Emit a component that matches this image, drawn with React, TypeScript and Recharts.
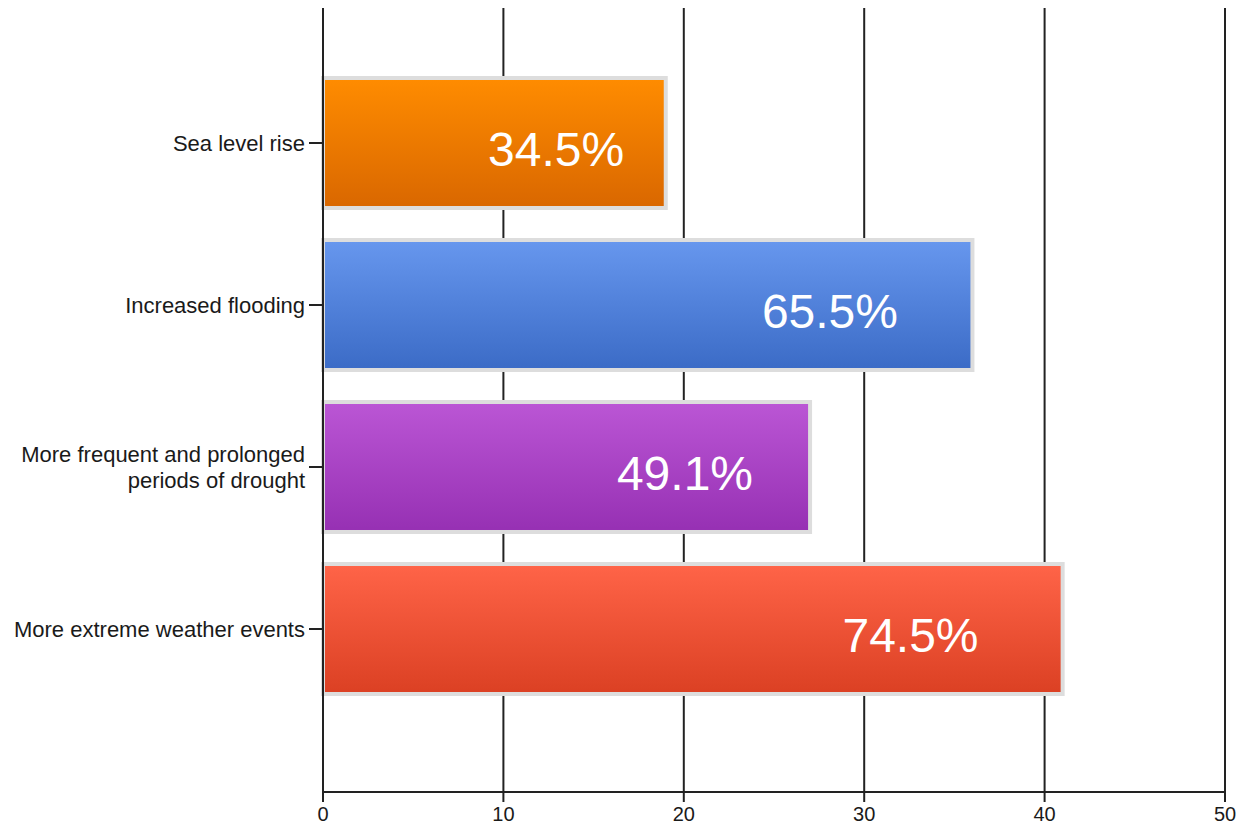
import { Bar, BarChart, CartesianGrid, Cell, LabelList, XAxis, YAxis } from "recharts";

const categories = [
  "Sea level rise",
  "Increased flooding",
  "More frequent and prolonged periods of drought",
  "More extreme weather events",
];
const counts = [19, 36, 27, 41];
const pctLabels = ["34.5%", "65.5%", "49.1%", "74.5%"];
const xTicks = [0, 10, 20, 30, 40, 50];

// top / bottom gradient stops per bar
const gradients = [
  ["#ff8c00", "#d96700"],
  ["#6797ee", "#3b6bc6"],
  ["#bb56d5", "#9630b3"],
  ["#ff6448", "#db4023"],
];

const font = "'Liberation Sans', Arial, sans-serif";

const data = categories.map((name, i) => ({
  name,
  value: counts[i],
  pct: pctLabels[i],
}));

// greedy word wrap by character count
function wrap(label: string, maxChars = 28) {
  const lines: string[] = [];
  let cur = "";
  for (const w of label.split(" ")) {
    const next = cur ? cur + " " + w : w;
    if (next.length > maxChars && cur) {
      lines.push(cur);
      cur = w;
    } else {
      cur = next;
    }
  }
  if (cur) lines.push(cur);
  return lines;
}

function CategoryTick(props: any) {
  const { x, y, payload } = props;
  const lines = wrap(String(payload.value));
  const lh = 26;
  const start = y - ((lines.length - 1) * lh) / 2;
  return (
    <text
      x={x}
      textAnchor="end"
      fill="#1a1a1a"
      style={{ fontSize: 22, fontFamily: font }}
    >
      {lines.map((l, i) => (
        <tspan key={i} x={x} y={start + i * lh} dy="0.36em">
          {l}
        </tspan>
      ))}
    </text>
  );
}

function PctLabel(props: any) {
  const { x, y, width, height, value } = props;
  return (
    <text
      x={x + width * 0.893 - 73}
      y={y + height / 2 + 23}
      textAnchor="middle"
      fill="#ffffff"
      style={{ fontSize: 48, fontFamily: font }}
    >
      {value}
    </text>
  );
}

export default function App() {
  return (
    <div style={{ position: "absolute", left: 0, top: 0, background: "#fff" }}>
      <BarChart
        width={1240}
        height={827}
        data={data}
        layout="vertical"
        margin={{ top: 8, right: 15, bottom: 0, left: 0 }}
      >
        <defs>
          {gradients.map(([top, bottom], i) => (
            <linearGradient key={i} id={`grad-${i}`} x1="0" y1="0" x2="0" y2="1">
              <stop offset="0%" stopColor={top} />
              <stop offset="100%" stopColor={bottom} />
            </linearGradient>
          ))}
        </defs>
        <CartesianGrid horizontal={false} stroke="#222" strokeWidth={2} />
        <XAxis
          type="number"
          domain={[0, 50]}
          ticks={xTicks}
          height={35}
          tickSize={10}
          tickMargin={5}
          stroke="#222"
          strokeWidth={2}
          tick={{ fontSize: 20, fill: "#1a1a1a", fontFamily: font }}
        />
        <YAxis
          type="category"
          dataKey="name"
          width={323}
          padding={{ top: 54, bottom: 82 }}
          tickSize={14}
          tickMargin={4}
          stroke="#222"
          strokeWidth={2}
          tick={<CategoryTick />}
          interval={0}
        />
        <Bar
          dataKey="value"
          barSize={130}
          stroke="#dddddd"
          strokeWidth={4}
          isAnimationActive={false}
        >
          {data.map((_, i) => (
            <Cell key={i} fill={`url(#grad-${i})`} />
          ))}
          <LabelList dataKey="pct" content={<PctLabel />} />
        </Bar>
      </BarChart>
    </div>
  );
}
